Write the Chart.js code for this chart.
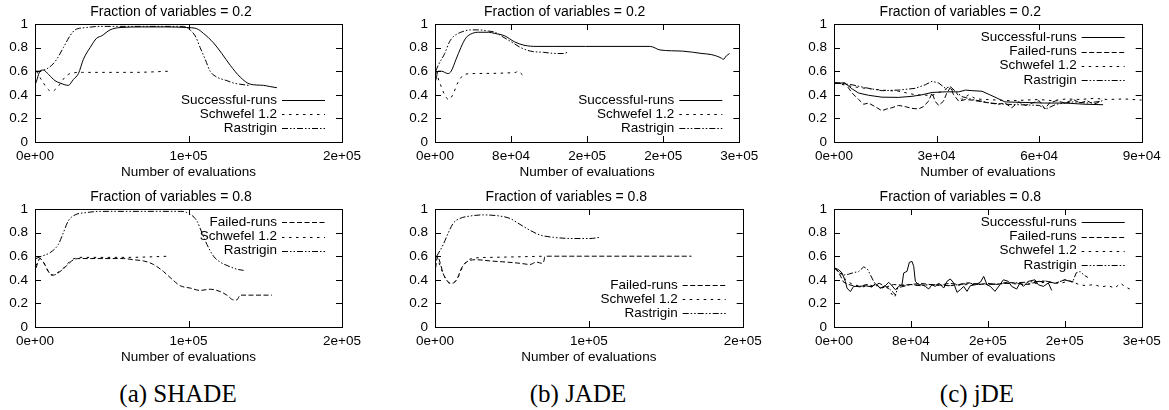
<!DOCTYPE html>
<html>
<head>
<meta charset="utf-8">
<script src="https://cdn.jsdelivr.net/npm/chart.js@4.4.1/dist/chart.umd.min.js"></script>
<style>
  body { margin: 0; background: #fff; }
  #wrap { position: relative; width: 1169px; height: 410px; overflow: hidden; }
  canvas { position: absolute; }
  .cap { position: absolute; width: 300px; text-align: center; font-family: 'Liberation Serif', 'DejaVu Serif', serif;
         font-size: 25px; line-height: 25px; top: 381px; color: #000; }
</style>
</head>
<body>
<div id="wrap">
  <canvas id="aTop" width="390" height="185" style="left:0px;top:0px"></canvas>
  <canvas id="bTop" width="390" height="185" style="left:390px;top:0px"></canvas>
  <canvas id="cTop" width="390" height="185" style="left:779px;top:0px"></canvas>
  <canvas id="aBot" width="390" height="185" style="left:0px;top:185px"></canvas>
  <canvas id="bBot" width="390" height="185" style="left:390px;top:185px"></canvas>
  <canvas id="cBot" width="390" height="185" style="left:779px;top:185px"></canvas>
  <div class="cap" style="left:28px">(a) SHADE</div>
  <div class="cap" style="left:428px">(b) JADE</div>
  <div class="cap" style="left:827px">(c) jDE</div>
</div>
<script>
// x values are in thousands of evaluations

// SHADE, fraction 0.2
const aTopSuccX = [0.6, 3.3, 5.4, 9, 13, 16.3, 21.7, 25, 28.3, 31.5, 35.9, 40.2, 43.5, 48.9, 55.4, 70, 85, 98.9, 105.4, 109.8, 116.3, 121.7, 127.2, 133.7, 140.2, 148.9, 153, 157.6];
const aTopSuccY = [0.5, 0.6, 0.61, 0.57, 0.52, 0.5, 0.48, 0.53, 0.58, 0.7, 0.8, 0.88, 0.9, 0.95, 0.97, 0.975, 0.975, 0.97, 0.96, 0.92, 0.84, 0.75, 0.65, 0.55, 0.49, 0.48, 0.47, 0.46];
const aTopSchX = [1, 4.5, 9, 11, 15, 19.6, 23, 31, 64, 88];
const aTopSchY = [0.6, 0.52, 0.44, 0.43, 0.47, 0.55, 0.58, 0.59, 0.59, 0.6];
const aTopRasX = [0.6, 2.2, 7.6, 10.9, 14.1, 18.5, 22.8, 26.1, 33.7, 42.4, 70, 96.7, 98.9, 104.3, 107.6, 110.9, 114.1, 118.5, 125, 129.3, 139.1];
const aTopRasY = [0.6, 0.6, 0.62, 0.65, 0.7, 0.8, 0.9, 0.95, 0.97, 0.98, 0.98, 0.98, 0.97, 0.9, 0.8, 0.7, 0.6, 0.55, 0.52, 0.5, 0.48];

// SHADE, fraction 0.8
const aBotFailX = [0.6, 3.3, 5.4, 9.8, 12, 16.3, 20.7, 25, 29.3, 57.6, 64.1, 70.7, 77.2, 83.7, 88, 94.6, 101.1, 107.6, 114.1, 120.7, 125, 129.3, 131.5, 133.7, 154.3];
const aBotFailY = [0.5, 0.58, 0.55, 0.45, 0.44, 0.47, 0.52, 0.57, 0.58, 0.58, 0.57, 0.56, 0.53, 0.47, 0.42, 0.35, 0.33, 0.31, 0.32, 0.3, 0.27, 0.23, 0.23, 0.27, 0.27];
const aBotSchX = [0.6, 3.3, 10.9, 18.5, 24, 30, 60, 88];
const aBotSchY = [0.52, 0.58, 0.44, 0.5, 0.57, 0.59, 0.59, 0.6];
const aBotRasX = [0.6, 4.3, 9.8, 15.2, 18.5, 21.7, 26.1, 33.7, 42.4, 94.6, 98.9, 105.4, 108.7, 112, 116.3, 120.7, 127.2, 131.5, 135.9];
const aBotRasY = [0.58, 0.6, 0.63, 0.7, 0.8, 0.9, 0.95, 0.97, 0.98, 0.98, 0.97, 0.9, 0.8, 0.7, 0.6, 0.55, 0.51, 0.49, 0.48];

// JADE, fraction 0.2
const bTopSuccX = [0.7, 3.4, 6.8, 13.6, 17, 22.1, 27.2, 32.3, 39.1, 46, 56.2, 63, 73.2, 83.4, 93.6, 107.2, 124.2, 158.3, 209.3, 226.4, 236.6, 260.4, 280.8, 291, 301.3, 303, 306.4, 309.8];
const bTopSuccY = [0.52, 0.6, 0.6, 0.58, 0.6, 0.7, 0.8, 0.88, 0.92, 0.93, 0.93, 0.92, 0.9, 0.85, 0.82, 0.81, 0.81, 0.81, 0.81, 0.81, 0.78, 0.77, 0.75, 0.74, 0.71, 0.7, 0.73, 0.75];
const bTopSchX = [0.7, 5.1, 10.2, 14.3, 18.7, 23.8, 30.6, 39.1, 85.1, 86.8, 91.9];
const bTopSchY = [0.6, 0.5, 0.4, 0.36, 0.4, 0.5, 0.57, 0.58, 0.59, 0.6, 0.57];
const bTopRasX = [0.7, 3.4, 10.2, 15.3, 20.4, 27.2, 37.4, 46, 56.2, 63, 71.5, 80, 90.2, 100.4, 114, 127.7, 134.5, 139.6];
const bTopRasY = [0.6, 0.65, 0.75, 0.85, 0.9, 0.93, 0.95, 0.95, 0.94, 0.93, 0.89, 0.85, 0.8, 0.77, 0.76, 0.75, 0.75, 0.76];

// JADE, fraction 0.8
const bBotFailX = [0.4, 1.7, 3.2, 5.4, 8.7, 10.8, 14.1, 17.3, 21.7, 27.1, 35.7, 46.5, 55.2, 61.7, 66, 69.3, 70.8, 71.4, 166.7];
const bBotFailY = [0.5, 0.6, 0.55, 0.45, 0.38, 0.37, 0.4, 0.5, 0.56, 0.57, 0.56, 0.55, 0.54, 0.53, 0.55, 0.54, 0.56, 0.6, 0.6];
const bBotSchX = [1.1, 5.4, 9.7, 14.1, 18.4, 23.8, 35.7, 71.4];
const bBotSchY = [0.6, 0.45, 0.37, 0.4, 0.52, 0.58, 0.59, 0.6];
const bBotRasX = [1.1, 5.4, 8.7, 11.9, 16.2, 22.7, 31.4, 42.2, 48.7, 55.2, 61.7, 68.2, 76.9, 89.8, 100.7, 107.2];
const bBotRasY = [0.6, 0.7, 0.8, 0.88, 0.92, 0.94, 0.95, 0.94, 0.92, 0.87, 0.82, 0.78, 0.76, 0.75, 0.75, 0.76];

// jDE, fraction 0.2
const cTopSuccX = [0.3, 3.2, 5.3, 7.2, 10.1, 14, 18.9, 22.8, 25.7, 28.7, 32.5, 36.5, 38.5, 40.4, 43.3, 45.6, 47.1, 50, 55.9, 61.7, 67.6, 73.4, 78.7];
const cTopSuccY = [0.5, 0.5, 0.45, 0.415, 0.396, 0.38, 0.378, 0.387, 0.4, 0.42, 0.425, 0.425, 0.44, 0.435, 0.43, 0.4, 0.38, 0.34, 0.335, 0.33, 0.33, 0.32, 0.316];
const cTopFailX = [0.3, 3.2, 5.3, 7.2, 8.7, 10.1, 12, 14, 15.4, 16.9, 18.9, 20.8, 22.8, 24.7, 26.2, 27.6, 28.7, 29.6, 30.6, 32, 33, 34, 35, 36.5, 38.4, 40.4, 42.3, 45.6, 48, 50, 52, 54, 56, 58, 60, 61.7, 63, 65, 67.6, 70, 72, 74, 76, 78.5];
const cTopFailY = [0.5, 0.5, 0.415, 0.36, 0.32, 0.33, 0.3, 0.265, 0.28, 0.29, 0.31, 0.3, 0.285, 0.28, 0.3, 0.345, 0.415, 0.345, 0.31, 0.345, 0.415, 0.46, 0.4, 0.345, 0.36, 0.355, 0.345, 0.33, 0.32, 0.33, 0.29, 0.34, 0.31, 0.33, 0.35, 0.28, 0.33, 0.35, 0.33, 0.36, 0.33, 0.35, 0.32, 0.35];
const cTopSchX = [0.3, 5.3, 9.2, 14, 18.9, 23.8, 28.7, 31.5, 33.5, 35.5, 37.4, 39.4, 41.5, 44.5, 48, 52, 56, 60, 64, 68, 72, 76, 80, 85, 90];
const cTopSchY = [0.5, 0.47, 0.455, 0.44, 0.43, 0.4, 0.395, 0.43, 0.46, 0.425, 0.36, 0.4, 0.365, 0.36, 0.355, 0.35, 0.355, 0.36, 0.35, 0.365, 0.36, 0.37, 0.36, 0.365, 0.355];
const cTopRasX = [0.3, 5.3, 9.2, 14, 18.9, 23.8, 26.7, 28.7, 30.6, 32.6, 34, 35.5, 37.4, 40.4, 43.3, 45.7, 50, 55, 60, 62, 65, 70, 74, 78];
const cTopRasY = [0.5, 0.485, 0.46, 0.435, 0.44, 0.455, 0.485, 0.515, 0.5, 0.455, 0.47, 0.43, 0.385, 0.36, 0.345, 0.33, 0.32, 0.315, 0.31, 0.28, 0.32, 0.34, 0.33, 0.345];

// jDE, fraction 0.8
const cBotSuccX = [0.7, 4.9, 8.3, 11.8, 13.5, 17, 20.4, 25.7, 32.6, 39.5, 43, 48.2, 53.4, 56.9, 60.3, 63.8, 67.3, 70.7, 72.5, 75.9, 78.4, 81.1, 82.9, 84.6, 88.1, 91.5, 95, 98.5, 101.9, 105.4, 108.9, 114.1, 117.5, 121, 124.5, 127.9, 131.4, 134.9, 138.3, 141.8, 147, 152.2, 155.7, 159.1, 162.6, 167.4, 172.6, 176.1, 181.3, 184.8, 190, 193.4, 196.9, 202.1, 209, 212.5, 217.7, 222.9, 226.4];
const cBotSuccY = [0.5, 0.486, 0.458, 0.387, 0.33, 0.3, 0.344, 0.344, 0.35, 0.339, 0.367, 0.33, 0.35, 0.379, 0.35, 0.316, 0.344, 0.358, 0.458, 0.472, 0.548, 0.556, 0.514, 0.387, 0.358, 0.358, 0.344, 0.322, 0.358, 0.344, 0.373, 0.33, 0.387, 0.407, 0.373, 0.294, 0.316, 0.344, 0.302, 0.35, 0.358, 0.379, 0.429, 0.358, 0.344, 0.302, 0.358, 0.4, 0.387, 0.344, 0.322, 0.373, 0.344, 0.387, 0.4, 0.358, 0.344, 0.373, 0.31];
const cBotFailX = [0.7, 5, 10, 15, 20, 27, 33, 40, 47, 55, 62, 70, 80, 90, 100, 110, 120, 130, 140, 150, 160, 170, 180, 190, 200, 210, 220, 230, 240, 250];
const cBotFailY = [0.5, 0.46, 0.38, 0.36, 0.35, 0.34, 0.36, 0.35, 0.37, 0.34, 0.36, 0.355, 0.36, 0.37, 0.36, 0.355, 0.37, 0.36, 0.375, 0.36, 0.37, 0.36, 0.38, 0.37, 0.36, 0.38, 0.39, 0.37, 0.4, 0.38];
const cBotSchX = [0.7, 5, 10, 15, 20, 25, 30, 35, 40, 45, 50, 55, 58, 61, 63, 66, 70, 80, 90, 100, 120, 140, 160, 180, 200, 220, 235, 245, 255, 262, 270, 278, 285, 292, 298, 303, 308, 310];
const cBotSchY = [0.5, 0.47, 0.42, 0.38, 0.36, 0.35, 0.34, 0.35, 0.34, 0.36, 0.33, 0.35, 0.3, 0.27, 0.25, 0.33, 0.35, 0.36, 0.35, 0.36, 0.35, 0.36, 0.36, 0.37, 0.36, 0.38, 0.37, 0.39, 0.36, 0.35, 0.36, 0.34, 0.35, 0.33, 0.37, 0.34, 0.32, 0.3];
const cBotRasX = [0.7, 4.9, 10, 15, 20, 25.7, 30.9, 34.8, 38, 41, 44, 48, 53, 58, 62, 64, 66, 70, 80, 90, 100, 120, 140, 160, 180, 200, 220, 230, 240, 248, 252, 256, 260, 264];
const cBotRasY = [0.5, 0.47, 0.44, 0.447, 0.46, 0.47, 0.51, 0.49, 0.44, 0.39, 0.35, 0.33, 0.34, 0.32, 0.29, 0.27, 0.33, 0.34, 0.36, 0.35, 0.36, 0.35, 0.37, 0.36, 0.37, 0.38, 0.39, 0.37, 0.4, 0.38, 0.46, 0.47, 0.44, 0.42];

const yTicks = [0, 0.2, 0.4, 0.6, 0.8, 1];

const SOLID = [], DASHED = [5, 2.5], DOTTED = [2.5, 4.5], DASHDOT = [6, 2, 1.5, 2, 1.5, 2];

Chart.defaults.font.family = "'Liberation Sans', Arial, sans-serif";
Chart.defaults.font.size = 13.5;
Chart.defaults.color = '#000';

function fmtE(v){
    if (v === 0) return '0e+00';
    var s = v.toExponential(0).split('e');
    var e = s[1];
    var d = e.slice(1);
    if (d.length < 2) d = '0' + d;
    return s[0] + 'e' + e[0] + d;
}

function pts(xs, ys){
    var out = [];
    for (var i = 0; i < xs.length; i++) out.push({x: xs[i] * 1000, y: ys[i]});
    return out;
}

// gnuplot style border with inward ticks on all four sides, then the key
const gnuKey = {
    id: 'gnuKey',
    afterDraw(chart, args, opts){
        const ctx = chart.ctx, a = chart.chartArea;
        const sx = chart.scales.x, sy = chart.scales.y;
        const L = a.left, R = a.right, T = a.top, B = a.bottom;
        ctx.save();
        ctx.strokeStyle = '#000';
        ctx.fillStyle = '#000';
        ctx.lineWidth = 1;
        ctx.setLineDash([]);
        ctx.strokeRect(Math.round(L) + 0.5, Math.round(T) + 0.5, Math.round(R - L), Math.round(B - T));
        ctx.beginPath();
        sx.ticks.forEach(t => {
            const px = Math.round(sx.getPixelForValue(t.value)) + 0.5;
            ctx.moveTo(px, B); ctx.lineTo(px, B - 6);
            ctx.moveTo(px, T); ctx.lineTo(px, T + 6);
        });
        sy.ticks.forEach(t => {
            const py = Math.round(sy.getPixelForValue(t.value)) + 0.5;
            ctx.moveTo(L, py); ctx.lineTo(L + 6, py);
            ctx.moveTo(R, py); ctx.lineTo(R - 6, py);
        });
        ctx.stroke();

        const ds = chart.data.datasets;
        const step = 14.2;
        const y0 = opts.pos === 'top' ? T + 13.3 : B - 13.6 - step * (ds.length - 1);
        ctx.font = "13.5px 'Liberation Sans', Arial, sans-serif";
        ctx.textAlign = 'right';
        ctx.textBaseline = 'middle';
        ds.forEach((d, i) => {
            const y = y0 + i * step;
            ctx.fillText(d.label, R - 65, y);
            ctx.setLineDash(d.borderDash || []);
            ctx.beginPath();
            ctx.moveTo(R - 60, Math.round(y) + 0.5);
            ctx.lineTo(R - 17, Math.round(y) + 0.5);
            ctx.stroke();
        });
        ctx.restore();
    }
};

function makeChart(id, p){
    const datasets = p.series.map(s => ({
        label: s.label,
        data: pts(s.xs, s.ys),
        borderColor: '#000',
        borderWidth: 1,
        borderDash: s.dash,
        pointRadius: 0,
        fill: false,
        cubicInterpolationMode: p.smooth ? 'monotone' : 'default',
        tension: 0
    }));
    return new Chart(document.getElementById(id), {
        type: 'line',
        data: { datasets: datasets },
        plugins: [gnuKey],
        options: {
            responsive: false,
            animation: false,
            devicePixelRatio: 1,
            layout: { padding: { top: 2, bottom: 3, left: 0, right: p.pr } },
            plugins: {
                legend: { display: false },
                tooltip: { enabled: false },
                title: { display: true, text: p.title, font: { size: 14, weight: 'normal', lineHeight: 1.2 },
                         padding: { top: 2, bottom: 3.2 }, color: '#000' },
                gnuKey: { pos: p.legend }
            },
            scales: {
                x: {
                    type: 'linear', min: 0, max: p.xmax,
                    grid: { display: false, drawTicks: false, tickLength: 0 },
                    border: { display: false },
                    ticks: { stepSize: p.step, autoSkip: false, maxRotation: 0, padding: 6.5, callback: v => fmtE(v) },
                    title: { display: true, text: 'Number of evaluations', padding: { top: 0, bottom: 2 } },
                    afterFit: s => { s.height = 40; }
                },
                y: {
                    min: 0, max: 1,
                    grid: { display: false, drawTicks: false, tickLength: 0 },
                    border: { display: false },
                    afterBuildTicks: s => { s.ticks = yTicks.map(v => ({ value: v })); },
                    ticks: { padding: 7, callback: v => String(+v.toFixed(1)) },
                    afterFit: s => { s.width = p.yw; }
                }
            }
        }
    });
}

makeChart('aTop', { title: 'Fraction of variables = 0.2', xmax: 200000, step: 100000, yw: 35, pr: 48, legend: 'bottom', smooth: true,
    series: [ { label: 'Successful-runs', xs: aTopSuccX, ys: aTopSuccY, dash: SOLID },
              { label: 'Schwefel 1.2', xs: aTopSchX, ys: aTopSchY, dash: DOTTED },
              { label: 'Rastrigin', xs: aTopRasX, ys: aTopRasY, dash: DASHDOT } ] });
makeChart('aBot', { title: 'Fraction of variables = 0.8', xmax: 200000, step: 100000, yw: 35, pr: 48, legend: 'top', smooth: true,
    series: [ { label: 'Failed-runs', xs: aBotFailX, ys: aBotFailY, dash: DASHED },
              { label: 'Schwefel 1.2', xs: aBotSchX, ys: aBotSchY, dash: DOTTED },
              { label: 'Rastrigin', xs: aBotRasX, ys: aBotRasY, dash: DASHDOT } ] });
makeChart('bTop', { title: 'Fraction of variables = 0.2', xmax: 320000, step: 80000, yw: 45, pr: 40.7, legend: 'bottom', smooth: true,
    series: [ { label: 'Successful-runs', xs: bTopSuccX, ys: bTopSuccY, dash: SOLID },
              { label: 'Schwefel 1.2', xs: bTopSchX, ys: bTopSchY, dash: DOTTED },
              { label: 'Rastrigin', xs: bTopRasX, ys: bTopRasY, dash: DASHDOT } ] });
makeChart('bBot', { title: 'Fraction of variables = 0.8', xmax: 200000, step: 100000, yw: 45, pr: 37.3, legend: 'bottom', smooth: true,
    series: [ { label: 'Failed-runs', xs: bBotFailX, ys: bBotFailY, dash: DASHED },
              { label: 'Schwefel 1.2', xs: bBotSchX, ys: bBotSchY, dash: DOTTED },
              { label: 'Rastrigin', xs: bBotRasX, ys: bBotRasY, dash: DASHDOT } ] });
makeChart('cTop', { title: 'Fraction of variables = 0.2', xmax: 90000, step: 30000, yw: 55, pr: 27.3, legend: 'top', smooth: false,
    series: [ { label: 'Successful-runs', xs: cTopSuccX, ys: cTopSuccY, dash: SOLID },
              { label: 'Failed-runs', xs: cTopFailX, ys: cTopFailY, dash: DASHED },
              { label: 'Schwefel 1.2', xs: cTopSchX, ys: cTopSchY, dash: DOTTED },
              { label: 'Rastrigin', xs: cTopRasX, ys: cTopRasY, dash: DASHDOT } ] });
makeChart('cBot', { title: 'Fraction of variables = 0.8', xmax: 320000, step: 80000, yw: 55, pr: 27.3, legend: 'top', smooth: false,
    series: [ { label: 'Successful-runs', xs: cBotSuccX, ys: cBotSuccY, dash: SOLID },
              { label: 'Failed-runs', xs: cBotFailX, ys: cBotFailY, dash: DASHED },
              { label: 'Schwefel 1.2', xs: cBotSchX, ys: cBotSchY, dash: DOTTED },
              { label: 'Rastrigin', xs: cBotRasX, ys: cBotRasY, dash: DASHDOT } ] });
</script>
</body>
</html>
